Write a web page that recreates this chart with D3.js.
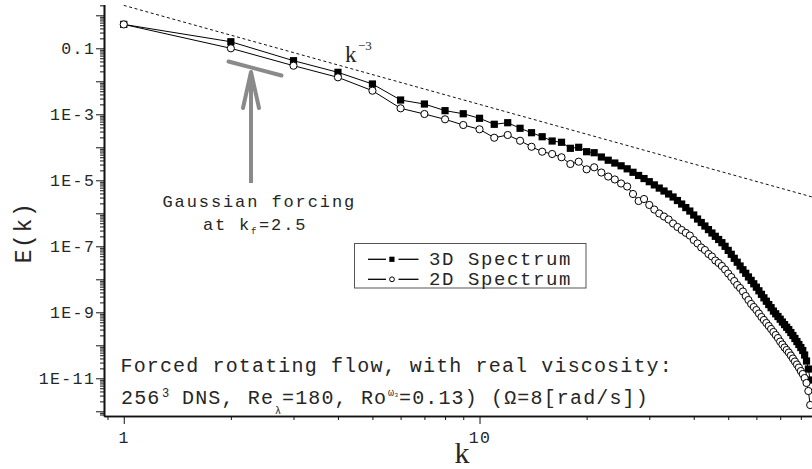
<!DOCTYPE html>
<html><head><meta charset="utf-8">
<script src="https://cdn.jsdelivr.net/npm/d3@7"></script>
<style>
html,body{margin:0;padding:0;background:#fff;}
svg{display:block;}
</style></head>
<body>
<svg id="chart" width="812" height="469"></svg>
<script>
(function(){
// ---- data ----
const wavenumbers = d3.range(1, 86); // k = 1..85
const spectrum3D = [0.53, 0.158, 0.0421, 0.0187, 8.28e-3, 2.71e-3, 2.05e-3, 1.29e-3, 1.04e-3, 7.57e-4,
 4.98e-4, 5.56e-4, 3.77e-4, 2.77e-4, 2.09e-4, 1.55e-4, 1.42e-4, 9.33e-5, 1.0e-4, 7.36e-5,
 6.86e-5, 5.08e-5, 4.06e-5, 3.34e-5, 2.75e-5, 2.23e-5, 1.75e-5, 1.40e-5, 1.13e-5, 9.08e-6,
 7.26e-6, 5.81e-6, 4.74e-6, 3.85e-6, 3.12e-6, 2.44e-6, 1.91e-6, 1.49e-6, 1.17e-6, 8.87e-7,
 6.71e-7, 5.26e-7, 4.12e-7, 3.21e-7, 2.53e-7, 2.01e-7, 1.61e-7, 1.29e-7, 1.0e-7, 7.52e-8,
 5.73e-8, 4.33e-8, 3.30e-8, 2.53e-8, 1.95e-8, 1.52e-8, 1.18e-8, 9.27e-9, 7.31e-9, 5.77e-9,
 4.49e-9, 3.51e-9, 2.75e-9, 2.17e-9, 1.72e-9, 1.38e-9, 1.09e-9, 9.02e-10, 7.46e-10, 6.18e-10,
 5.08e-10, 4.24e-10, 3.53e-10, 2.99e-10, 2.44e-10, 1.98e-10, 1.61e-10, 1.30e-10, 1.06e-10, 8.57e-11,
 6.95e-11, 5.08e-11, 3.34e-11, 1.91e-11, 8.87e-12];
const spectrum2D = [0.53, 0.1, 0.0297, 0.0132, 5.19e-3, 1.52e-3, 1.02e-3, 7.05e-4, 4.74e-4, 3.51e-4,
 1.95e-4, 2.36e-4, 1.58e-4, 1.04e-4, 7.36e-5, 6.27e-5, 4.98e-5, 3.12e-5, 3.66e-5, 2.15e-5,
 2.48e-5, 1.72e-5, 1.30e-5, 1.06e-5, 8.0e-6, 6.49e-6, 3.85e-6, 2.36e-6, 2.71e-6, 1.79e-6,
 1.30e-6, 9.86e-7, 8.0e-7, 6.49e-7, 4.91e-7, 3.85e-7, 3.12e-7, 2.56e-7, 2.12e-7, 1.55e-7,
 1.22e-7, 9.20e-8, 7.73e-8, 5.85e-8, 4.91e-8, 3.72e-8, 3.12e-8, 2.53e-8, 1.98e-8, 1.50e-8,
 1.17e-8, 8.87e-9, 6.71e-9, 5.45e-9, 4.27e-9, 3.12e-9, 2.36e-9, 1.79e-9, 1.45e-9, 1.17e-9,
 9.20e-10, 7.21e-10, 5.85e-10, 4.74e-10, 3.85e-10, 3.12e-10, 2.53e-10, 2.05e-10, 1.66e-10, 1.30e-10,
 1.06e-10, 8.57e-11, 7.21e-11, 6.05e-11, 4.91e-11, 3.98e-11, 3.23e-11, 2.62e-11, 2.12e-11, 1.66e-11,
 1.35e-11, 1.02e-11, 7.21e-12, 4.12e-12, 1.55e-12];
// k^-3 reference line endpoints [k, E]
const refLineK = [1, 86];
const refLineE = [2, 3.14e-6];
// axis ticks
const xMajorTicks = [1, 10];
const xMinorTicks = [0.9, 2, 3, 4, 5, 6, 7, 8, 9, 20, 30, 40, 50, 60, 70, 80];
const yMajorTicks = [1, 1e-1, 1e-2, 1e-3, 1e-4, 1e-5, 1e-6, 1e-7, 1e-8, 1e-9, 1e-10, 1e-11, 1e-12];
const yTickLabels = {"1e-1": "0.1", "1e-3": "1E-3", "1e-5": "1E-5", "1e-7": "1E-7", "1e-9": "1E-9", "1e-11": "1E-11"};
const seriesNames = ["3D Spectrum", "2D Spectrum"];

// ---- layout ----
const svg = d3.select("#chart");
const mLeft = 104, mRight = 812, mTop = 4.5, mBottom = 416;
const x = d3.scaleLog().domain([0.88, 86]).range([mLeft, mRight]);
const y = d3.scaleLog().domain([7.21e-13, 2.125]).range([mBottom, mTop]);
const mono = "'Liberation Mono', 'DejaVu Sans Mono', monospace";
const serif = "'Liberation Serif', 'DejaVu Serif', serif";
const txt = "#262626";

// minor y ticks
const yMinorTicks = [];
for (let e = -13; e <= 0; e++) for (let m = 2; m <= 9; m++) {
  const v = m * Math.pow(10, e);
  if (v >= y.domain()[0] && v <= y.domain()[1]) yMinorTicks.push(v);
}

// Y axis
const yMinorAxis = d3.axisLeft(y).tickValues(yMinorTicks).tickSize(4).tickSizeOuter(0).tickFormat("");
const yMajorAxis = d3.axisLeft(y).tickValues(yMajorTicks).tickSize(8).tickSizeOuter(0).tickPadding(0.8)
  .tickFormat(d => yTickLabels[d.toExponential()] || "");
const gy1 = svg.append("g").attr("transform", `translate(${mLeft},0)`).call(yMinorAxis);
const gy2 = svg.append("g").attr("transform", `translate(${mLeft},0)`).call(yMajorAxis);
[gy1, gy2].forEach(g => {
  g.select(".domain").attr("stroke", "#111").attr("stroke-width", 1.6);
  g.selectAll(".tick line").attr("stroke", "#111").attr("stroke-width", 1);
});
gy2.selectAll(".tick text").attr("font-family", mono).attr("font-size", 16.5)
  .attr("letter-spacing", 1.4).attr("fill", txt);

// X axis
const xMinorAxis = d3.axisBottom(x).tickValues(xMinorTicks).tickSize(4).tickSizeOuter(0).tickFormat("");
const xMajorAxis = d3.axisBottom(x).tickValues(xMajorTicks).tickSize(8).tickSizeOuter(0).tickPadding(7.5)
  .tickFormat(d => String(d));
const gx1 = svg.append("g").attr("transform", `translate(0,${mBottom})`).call(xMinorAxis);
const gx2 = svg.append("g").attr("transform", `translate(0,${mBottom})`).call(xMajorAxis);
[gx1, gx2].forEach(g => {
  g.select(".domain").attr("stroke", "#111").attr("stroke-width", 1.3);
  g.selectAll(".tick line").attr("stroke", "#111").attr("stroke-width", 1);
});
gx2.selectAll(".tick text").attr("font-family", mono).attr("font-size", 16.5)
  .attr("letter-spacing", 1.4).attr("fill", txt);

// Axis titles
svg.append("text").attr("transform", "translate(31,232.5) rotate(-90)")
  .attr("text-anchor", "middle").attr("font-family", mono).attr("font-size", 23)
  .attr("letter-spacing", 1.6).attr("fill", txt).text("E(k)");
svg.append("text").attr("x", 462).attr("y", 462.5).attr("text-anchor", "middle")
  .attr("font-family", serif).attr("font-size", 30).attr("fill", txt).text("k");

// plotting area
const plot = svg.append("g");

// reference k^-3 line
plot.append("path")
  .datum(refLineK.map((k, i) => [k, refLineE[i]]))
  .attr("d", d3.line().x(d => x(d[0])).y(d => y(d[1])))
  .attr("fill", "none").attr("stroke", "#111").attr("stroke-width", 1)
  .attr("stroke-dasharray", "3,2.6");

const k3 = svg.append("text").attr("x", 345).attr("y", 61.7).attr("font-family", serif)
  .attr("font-size", 23).attr("fill", txt);
k3.append("tspan").text("k");
k3.append("tspan").attr("x", 358).attr("y", 50).attr("font-size", 13).text("−3");

// series
const line = d3.line().x(d => x(d[0])).y(d => y(d[1]));
const d3d = wavenumbers.map((k, i) => [k, spectrum3D[i]]);
const d2d = wavenumbers.map((k, i) => [k, spectrum2D[i]]);
plot.append("path").datum(d3d).attr("d", line).attr("fill", "none").attr("stroke", "#000").attr("stroke-width", 1);
plot.selectAll("rect.sq").data(d3d).join("rect").attr("class", "sq")
  .attr("x", d => x(d[0]) - 3.6).attr("y", d => y(d[1]) - 3.6)
  .attr("width", 7.2).attr("height", 7.2).attr("fill", "#000");
plot.append("path").datum(d2d).attr("d", line).attr("fill", "none").attr("stroke", "#000").attr("stroke-width", 1);
plot.selectAll("circle.ci").data(d2d).join("circle").attr("class", "ci")
  .attr("cx", d => x(d[0])).attr("cy", d => y(d[1])).attr("r", 3.6)
  .attr("fill", "#fff").attr("stroke", "#000").attr("stroke-width", 1);

// Gaussian forcing annotation
const gray = "#8a8a8a";
svg.append("line").attr("x1", 228.5).attr("y1", 61.5).attr("x2", 281.5).attr("y2", 75.5)
  .attr("stroke", gray).attr("stroke-width", 4).attr("stroke-linecap", "round");
svg.append("line").attr("x1", 251).attr("y1", 73).attr("x2", 251).attr("y2", 183)
  .attr("stroke", gray).attr("stroke-width", 4);
svg.append("path").attr("d", "M243,108 L251,72 L259,108")
  .attr("fill", "none").attr("stroke", gray).attr("stroke-width", 4)
  .attr("stroke-linejoin", "round").attr("stroke-linecap", "round");
svg.append("text").attr("x", 162.5).attr("y", 206.5).attr("font-family", mono)
  .attr("font-size", 17).attr("letter-spacing", 1.9).attr("fill", txt).text("Gaussian forcing");
const at = svg.append("text").attr("x", 203).attr("y", 230).attr("font-family", mono)
  .attr("font-size", 17).attr("fill", txt);
at.append("tspan").attr("letter-spacing", 1.9).text("at ");
at.append("tspan").attr("x", 239).text("k");
at.append("tspan").attr("x", 251).attr("y", 234).attr("font-size", 9).text("f");
at.append("tspan").attr("x", 259).attr("y", 230).attr("letter-spacing", 1.9).text("=2.5");

// legend
const lg = svg.append("g");
lg.append("rect").attr("x", 354.5).attr("y", 243.5).attr("width", 231.5).attr("height", 44.5)
  .attr("fill", "#fff").attr("stroke", "#555").attr("stroke-width", 1);
const rows = [259.3, 279.3];
seriesNames.forEach((name, i) => {
  const ry = rows[i];
  lg.append("line").attr("x1", 368).attr("x2", 386).attr("y1", ry).attr("y2", ry).attr("stroke", "#000").attr("stroke-width", 1.3);
  lg.append("line").attr("x1", 398.5).attr("x2", 418.5).attr("y1", ry).attr("y2", ry).attr("stroke", "#000").attr("stroke-width", 1.3);
  if (i === 0) {
    lg.append("rect").attr("x", 389.3).attr("y", ry - 2.6).attr("width", 5.2).attr("height", 5.2).attr("fill", "#000");
  } else {
    lg.append("circle").attr("cx", 392).attr("cy", ry).attr("r", 2.4).attr("fill", "#fff").attr("stroke", "#000").attr("stroke-width", 1);
  }
  lg.append("text").attr("x", 429).attr("y", ry + 6).attr("font-family", mono).attr("font-size", 19)
    .attr("letter-spacing", 1.6).attr("fill", txt).text(name);
});

// caption text
svg.append("text").attr("x", 120.5).attr("y", 372).attr("font-family", mono).attr("font-size", 20)
  .attr("letter-spacing", 1.15).attr("fill", txt).text("Forced rotating flow, with real viscosity:");
const cap = svg.append("text").attr("y", 403.5).attr("font-family", mono).attr("font-size", 20)
  .attr("fill", txt);
cap.append("tspan").attr("x", 121).attr("letter-spacing", 1.15).text("256");
cap.append("tspan").attr("x", 162).attr("y", 396.5).attr("font-size", 12).text("3");
cap.append("tspan").attr("x", 182).attr("y", 403.5).attr("letter-spacing", 1.15).text("DNS, Re");
cap.append("tspan").attr("x", 275).attr("y", 413.5).attr("font-size", 10).text("λ");
cap.append("tspan").attr("x", 282).attr("y", 403.5).attr("letter-spacing", 1.15).text("=180, Ro");
cap.append("tspan").attr("x", 388).attr("y", 395.5).attr("font-size", 10).text("ω");
cap.append("tspan").attr("x", 394.5).attr("y", 397).attr("font-size", 6).text("3");
cap.append("tspan").attr("x", 399).attr("y", 403.5).attr("letter-spacing", 1.15).text("=0.13) (Ω=8[rad/s])");
})();
</script>
</body></html>
